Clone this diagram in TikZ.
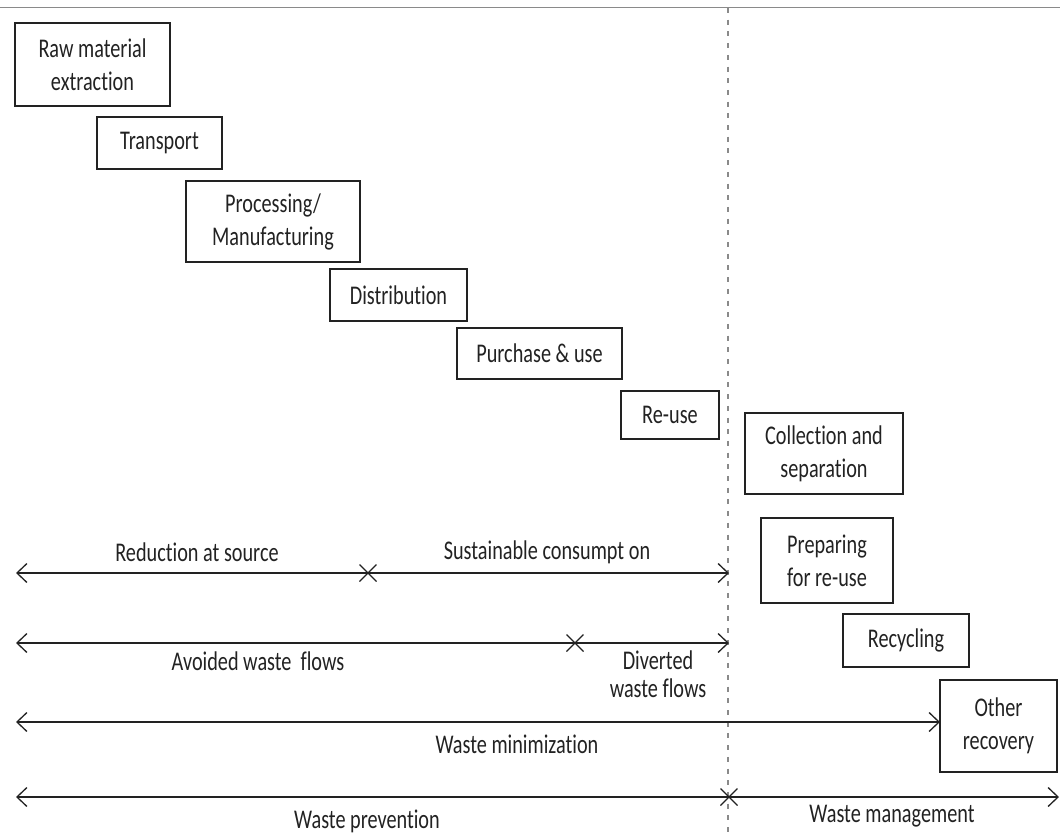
\documentclass[tikz,border=0pt]{standalone}
\usepackage{fontspec}
\setmainfont{Carlito}[FakeStretch=0.75, Ligatures=NoCommon]
\usetikzlibrary{arrows.meta}
\definecolor{ink}{HTML}{222222}
\definecolor{rule}{HTML}{8A8A8A}
\begin{document}
\begin{tikzpicture}[x=1pt,y=-1pt,
  every node/.style={text=ink, font=\fontsize{27}{33}\selectfont},
  stage/.style={draw=ink, line width=1.3pt, rectangle, inner sep=0pt, align=center},
  lbl/.style={inner sep=0pt, align=center},
  span/.style={draw=ink, line width=1.4pt, -{Straight Barb[length=10pt,width=19pt,line width=1.3pt]}},
  crossmark/.style={draw=ink, line width=1.1pt}]
\useasboundingbox (0,0) rectangle (1060,838);

% frame line and divider between prevention and management
\draw[rule, line width=1pt] (0,7) -- (1060,7);
\coordinate (divtop) at (728,8);
\coordinate (divbot) at (728,838);
\draw[rule, line width=1.4pt, dash pattern=on 5pt off 6.7pt] (divtop) -- (divbot);

% life-cycle stages
\node[stage, minimum width=155pt, minimum height=83pt] (raw) at (92.5,64.5) {Raw material\\extraction};
\node[stage, minimum width=125pt, minimum height=52pt] (transport) at (159.5,143) {Transport};
\node[stage, minimum width=174pt, minimum height=81pt] (proc) at (273,221.5) {Processing/\\Manufacturing};
\node[stage, minimum width=137pt, minimum height=52pt] (dist) at (398.5,295) {Distribution};
\node[stage, minimum width=165pt, minimum height=51pt] (purch) at (539.5,353.5) {Purchase \& use};
\node[stage, minimum width=98pt, minimum height=48pt] (reuse) at (670,415) {Re-use};

% waste management stages
\node[stage, minimum width=158pt, minimum height=81pt] (coll) at (824,453.5) {Collection and\\separation};
\node[stage, minimum width=132pt, minimum height=85pt] (prep) at (827,560.5) {Preparing\\for re-use};
\node[stage, minimum width=126pt, minimum height=53pt] (recyc) at (906,640.5) {Recycling};
\node[stage, minimum width=117pt, minimum height=92pt] (other) at (998.5,726) {Other\\recovery};

% end points of the spans
\coordinate (l1) at (16,573);   \coordinate (x1) at (368,573);  \coordinate (r1) at (729,573);
\coordinate (l2) at (16,643);   \coordinate (x2) at (575,643);  \coordinate (r2) at (729,643);
\coordinate (l3) at (16,722);   \coordinate (r3) at (940,722);
\coordinate (l4) at (16,797);   \coordinate (x4) at (729,797);  \coordinate (r4) at (1059,797);

% spans
\draw[span] (x1) -- (l1);
\draw[span] (x1) -- (r1);
\draw[span] (x2) -- (l2);
\draw[span] (x2) -- (r2);
\draw[span, {Straight Barb[length=10pt,width=19pt,line width=1.3pt]}-{Straight Barb[length=10pt,width=19pt,line width=1.3pt]}] (l3) -- (r3);
\draw[span] (x4) -- (l4);
\draw[span] (x4) -- (r4);

% split marks
\foreach \c in {x1,x2,x4}{
  \draw[crossmark] ([shift={(-8.5pt,-8.5pt)}]\c) -- ([shift={(8.5pt,8.5pt)}]\c);
  \draw[crossmark] ([shift={(-8.5pt,8.5pt)}]\c) -- ([shift={(8.5pt,-8.5pt)}]\c);
}

% span labels
\node[lbl] (reduction) at (197,552) {Reduction at source};
\node[lbl] (sustain) at (547,552) {Sustainable consumpt on};
\node[lbl] (avoided) at (258,661) {Avoided waste \ flows};
\node[lbl, font=\fontsize{27}{28.5}\selectfont] (diverted) at (658,674) {Diverted\\waste flows};
\node[lbl] (minim) at (517,744) {Waste minimization};
\node[lbl] (prevent) at (367,821) {Waste prevention};
\node[lbl] (manage) at (892,816) {Waste management};
\end{tikzpicture}
\end{document}
